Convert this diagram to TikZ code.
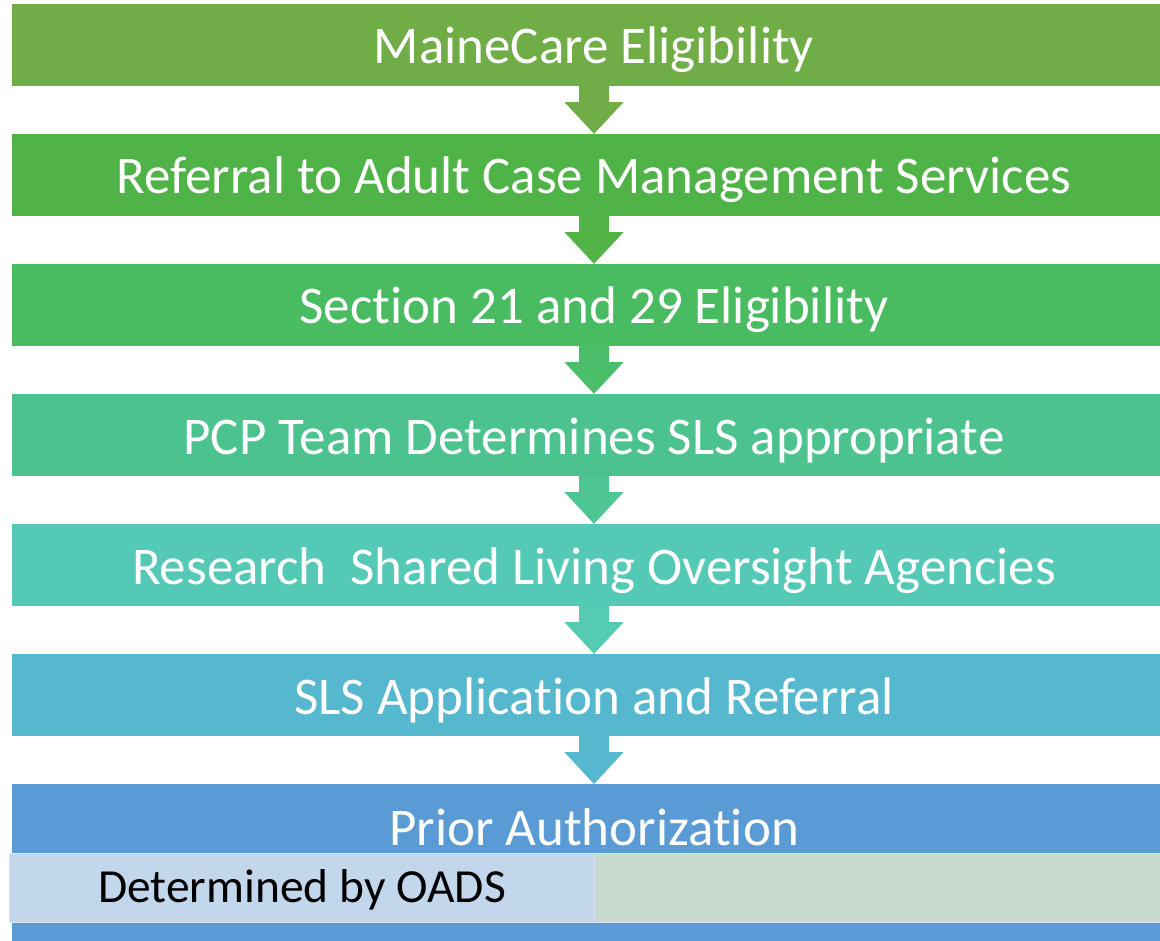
\documentclass[tikz,border=0pt]{standalone}
\usepackage{fontspec}
\setmainfont{Carlito}[RawFeature={-liga;-clig}]
\definecolor{c1}{HTML}{70AD47}
\definecolor{c2}{HTML}{50B347}
\definecolor{c3}{HTML}{49BC62}
\definecolor{c4}{HTML}{4CC28E}
\definecolor{c5}{HTML}{54C9B5}
\definecolor{c6}{HTML}{56B8CE}
\definecolor{c7}{HTML}{5B9BD5}
\definecolor{a2}{HTML}{52B447}
\definecolor{a3}{HTML}{4BBE6A}
\definecolor{a4}{HTML}{4DC693}
\definecolor{a5}{HTML}{55CBB2}
\definecolor{lightblue}{HTML}{C2D6EC}
\definecolor{lightgreen}{HTML}{C6D9CE}
\definecolor{boxedge}{HTML}{D8E5F3}
\tikzset{
  bar/.style={rectangle, inner sep=0pt, minimum width=1164pt, minimum height=82pt,
    text height=38pt, text depth=0pt, text=white,
    font=\fontsize{53}{60}\selectfont},
  lbl/.style={inner sep=0pt, text=white, font=\fontsize{53}{60}\selectfont},
  subbox/.style={rectangle, inner sep=0pt, draw=boxedge, line width=1.2pt},
  subtext/.style={inner sep=0pt, text=black, font=\fontsize{47.5}{54}\selectfont}
}
\newcommand{\flowarrow}[3]{%
  \fill[#3] ([xshift=-15pt]#1.south) -- ([xshift=15pt]#1.south)
    -- ([xshift=15pt,yshift=-16pt]#1.south) -- ([xshift=29.5pt,yshift=-16pt]#1.south)
    -- (#2.north) -- ([xshift=-29.5pt,yshift=-16pt]#1.south)
    -- ([xshift=-15pt,yshift=-16pt]#1.south) -- cycle;}
\begin{document}
\begin{tikzpicture}[x=1pt,y=-1pt]
\clip (0,0) rectangle (1160,941);
\fill[white] (0,0) rectangle (1160,941);
\node[bar, fill=c1] (b1) at (594,45) {MaineCare Eligibility};
\node[bar, fill=c2] (b2) at (594,175) {Referral to Adult Case Management Services};
\node[bar, fill=c3] (b3) at (594,305) {Section 21 and 29 Eligibility};
\node[bar, fill=c4] (b4) at (594,435) {PCP Team Determines SLS appropriate};
\node[bar, fill=c5] (b5) at (594,565) {Research\ \ Shared Living Oversight Agencies};
\node[bar, fill=c6] (b6) at (594,695) {SLS Application and Referral};
\node[rectangle, inner sep=0pt, minimum width=1164pt, minimum height=180pt, fill=c7, anchor=north] (b7) at (594,784) {};
\node[lbl, anchor=base] (pa) at (594,845) {Prior Authorization};
\node[subbox, fill=lightblue, minimum width=585pt, minimum height=69pt, anchor=north west] (oads) at (9,853) {};
\node[subbox, fill=lightgreen, minimum width=580pt, minimum height=69pt, anchor=north west] (rest) at (594,853) {};
\node[subtext, anchor=base west] (oadstext) at (98,902) {Determined by OADS};
\flowarrow{b1}{b2}{c1}
\flowarrow{b2}{b3}{a2}
\flowarrow{b3}{b4}{a3}
\flowarrow{b4}{b5}{a4}
\flowarrow{b5}{b6}{a5}
\flowarrow{b6}{b7}{c6}
\end{tikzpicture}
\end{document}
